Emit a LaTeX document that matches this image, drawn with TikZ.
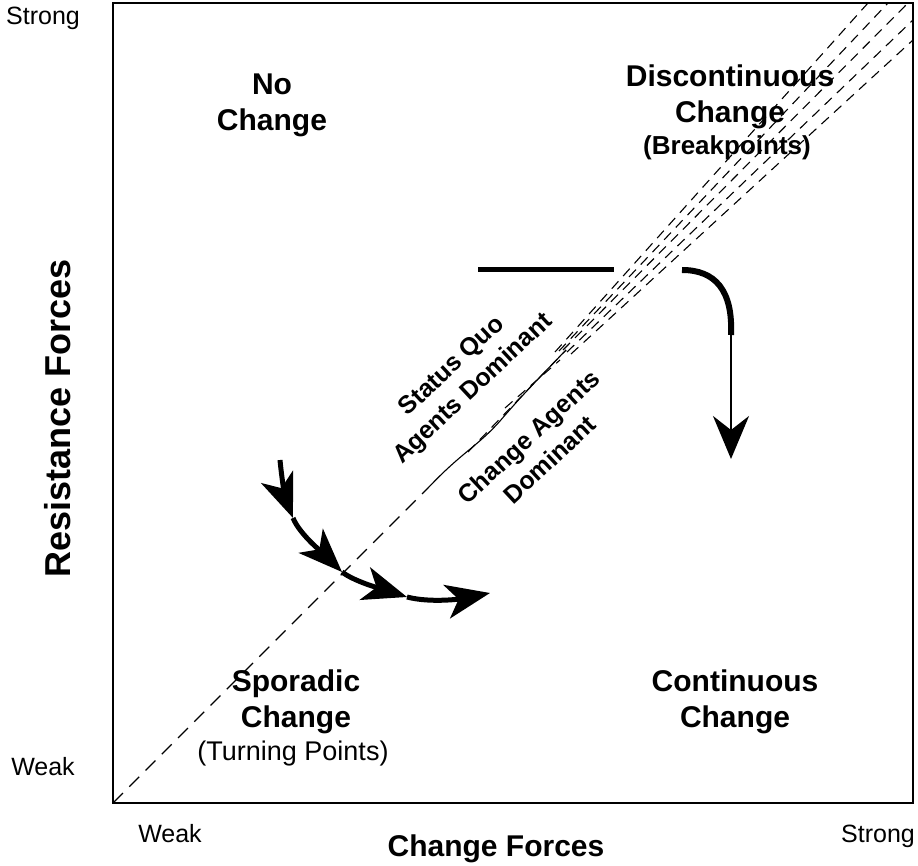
\documentclass[tikz,border=0pt]{standalone}
\usepackage{fontspec}
\setmainfont{Liberation Sans}
\usetikzlibrary{arrows.meta}

\tikzset{
	zone/.style={font=\bfseries\fontsize{30}{36}\selectfont, align=center, anchor=base, inner sep=0pt},
	zonesub/.style={anchor=base, inner sep=0pt},
	axislbl/.style={font=\fontsize{25}{30}\selectfont, anchor=base, inner sep=0pt},
	agents/.style={font=\bfseries\fontsize{25}{31}\selectfont, align=center, rotate=43, inner sep=0pt},
	diagdash/.style={line width=1.2pt, dash pattern=on 14pt off 9pt},
	bundle/.style={line width=1.1pt, dash pattern=on 10pt off 7pt},
	push/.style={line width=5pt, -{Stealth[length=44pt,width=34pt,inset=12pt]}}
}

\begin{document}
\begin{tikzpicture}[x=1pt,y=-1pt]

\useasboundingbox (0,0) rectangle (918,866);

\coordinate (ll) at (113,803);
\coordinate (ur) at (913,3);

%----------FRAME-------------%
\draw[line width=2.2pt] (ll) rectangle (ur);

%----------AXES-------------%
\node[axislbl] (ystrong) at (43,25) {Strong};
\node[axislbl] (yweak) at (43,775) {Weak};
\node[axislbl] (xweak) at (170,842) {Weak};
\node[axislbl] (xstrong) at (878,842) {Strong};
\node[font=\bfseries\fontsize{30}{36}\selectfont, anchor=base, inner sep=0pt] (xtitle) at (496,856) {Change Forces};
\node[font=\bfseries\fontsize{36}{40}\selectfont, anchor=base, rotate=90, inner sep=0pt] (ytitle) at (70,418) {Resistance Forces};

%----------ZONES-------------%
\node[zone] (nochange) at (272,131) {No\\Change};
\node[zone] (discont) at (730,123) {Discontinuous\\Change};
\node[zonesub, font=\bfseries\fontsize{26}{30}\selectfont] (breakpts) at (727,155) {(Breakpoints)};
\node[zone] (sporadic) at (296,727) {Sporadic\\Change};
\node[zonesub, font=\fontsize{27}{30}\selectfont] (turning) at (293,760) {(Turning Points)};
\node[zone] (contin) at (735,727) {Continuous\\Change};

%----------DIAGONAL-------------%
\coordinate (w0) at (428,488);
\coordinate (w1) at (566,350);
\draw[diagdash] (ll) -- (w0);
\draw[line width=1.1pt] (w0) .. controls (462,452) and (478,446) .. (500,421) .. controls (524,393) and (540,377) .. (w1);
\draw[bundle] (468,452) -- (w1);
\draw[bundle] (505,408) -- (560,360);

\foreach \sx/\sy/\ex/\ey in {555/352/868/3, 559/351/888/3, 563/350/908/3, 567/352/913/20, 571/354/913/40}{
	\draw[bundle] (\sx,\sy) -- (\ex,\ey);
};

\node[agents] (statusquo) at (463,378) {Status Quo\\Agents Dominant};
\node[agents] (changeag) at (539,448) {Change Agents\\Dominant};

%----------BAR AND DROP-------------%
\coordinate (barl) at (478,270);
\coordinate (barr) at (614,270);
\draw[line width=5pt] (barl) -- (barr);

\coordinate (d0) at (682,270);
\coordinate (d1) at (731,335);
\coordinate (d2) at (731,459);
\draw[line width=6pt] (d0) .. controls (715,270) and (733,290) .. (d1);
\draw[line width=2.5pt, -{Stealth[length=43pt,width=36pt,inset=14pt]}] (d1) -- (d2);

%----------TURNING PATH-------------%
\coordinate (s0) at (280,460);
\coordinate (s1) at (293,518);
\coordinate (s2) at (342,572);
\coordinate (s3) at (407,597);
\coordinate (s4) at (490,593);
\draw[push] (s0) .. controls (282,482) and (286,500) .. (s1);
\draw[push] (s1) .. controls (300,535) and (325,555) .. (s2);
\draw[push] (s2) .. controls (355,582) and (385,590) .. (s3);
\draw[push] (s3) .. controls (430,603) and (460,599) .. (s4);

\end{tikzpicture}
\end{document}
